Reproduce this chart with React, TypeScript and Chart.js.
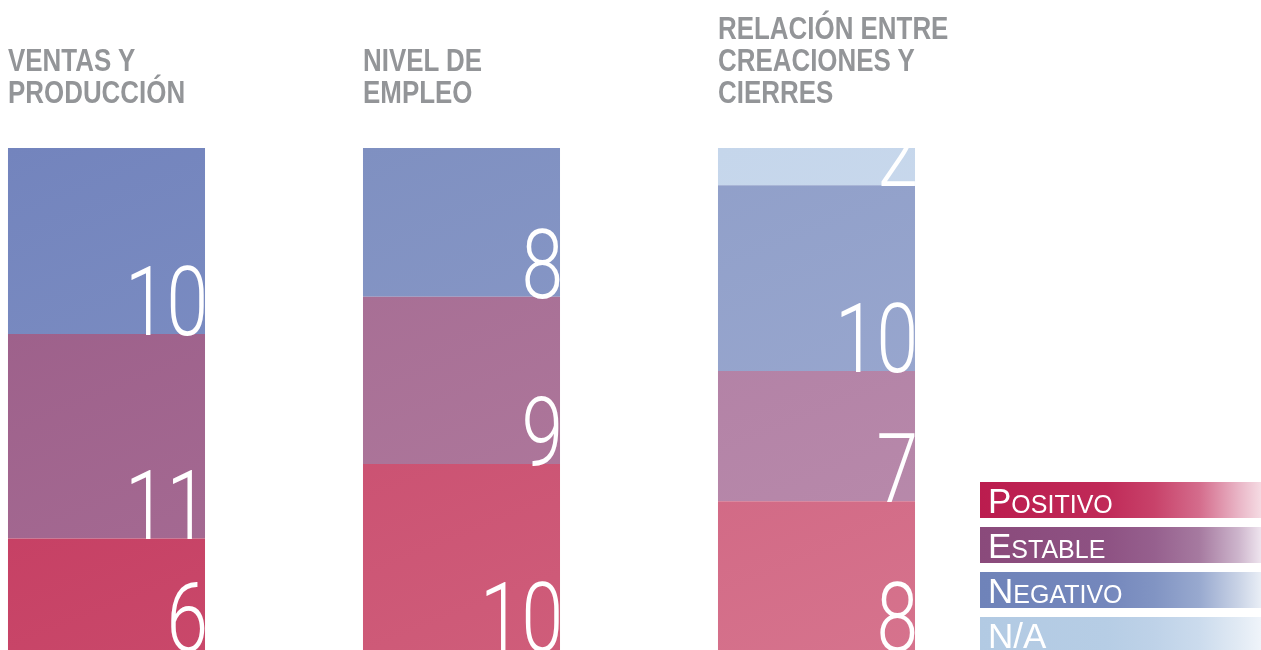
import React, { useEffect, useRef } from "react";
import { Chart, registerables } from "chart.js";

Chart.register(...registerables);

// ---- data ----
const categories = ["VENTAS Y PRODUCCIÓN", "NIVEL DE EMPLEO", "RELACIÓN ENTRE CREACIONES Y CIERRES"];
const titleLines = [
  ["VENTAS Y", "PRODUCCIÓN"],
  ["NIVEL DE", "EMPLEO"],
  ["RELACIÓN ENTRE", "CREACIONES Y", "CIERRES"],
];
const seriesNames = ["Positivo", "Estable", "Negativo", "N/A"];
const positivo = [6, 10, 8];
const estable = [11, 9, 7];
const negativo = [10, 8, 10];
const noAplica = [0, 0, 2];
const yMax = 27;

// ---- styles ----
// per series, per bar: [start, end] of a subtle diagonal gradient
const barColors: string[][][] = [
  [["#c1325a", "#c9486a"], ["#c7466a", "#cf5d7a"], ["#cc5d7b", "#d6738d"]],
  [["#9a5c87", "#a66c94"], ["#a56b92", "#b07b9e"], ["#af7ca2", "#ba8dad"]],
  [["#7384bd", "#8193c5"], ["#7f90c1", "#8e9dca"], ["#909fc9", "#9eacd2"]],
  [["#c8d8ec", "#d0def0"], ["#c8d8ec", "#d0def0"], ["#c5d6eb", "#d0ddef"]],
];
// horizontal legend gradient stops
const legendColors = [
  ["#bb1c4e", "#c02a58", "#c8426a", "#d46c8c", "#e9b5c6", "#f5dbe3"],
  ["#8a4a7b", "#8e5283", "#96608e", "#a67aa0", "#cdb5cc", "#eee4ee"],
  ["#6f83b9", "#7487bc", "#8194c3", "#98a9cf", "#c9d3e6", "#e9eef6"],
  ["#b2cae3", "#b6cde5", "#bed2e8", "#cbdbed", "#e1eaf4", "#eff4fa"],
];
const legendStops = [0, 0.45, 0.62, 0.78, 0.92, 1];

const numberLabels = {
  id: "numberLabels",
  afterDatasetsDraw(chart: any) {
    const { ctx, chartArea } = chart;
    ctx.save();
    ctx.beginPath();
    ctx.rect(0, chartArea.top, chart.width, chart.height - chartArea.top);
    ctx.clip();
    ctx.fillStyle = "#ffffff";
    ctx.textAlign = "right";
    ctx.textBaseline = "alphabetic";
    ctx.font = "300 96px Roboto, 'Liberation Sans', sans-serif";
    chart.data.datasets.forEach((ds: any, di: number) => {
      const meta = chart.getDatasetMeta(di);
      meta.data.forEach((el: any, i: number) => {
        const v = ds.data[i];
        if (!v) return;
        const p = el.getProps(["x", "y", "base", "width"], true);
        ctx.save();
        ctx.translate(p.x + p.width / 2 + 3, Math.max(p.base, p.y) + 1);
        ctx.scale(0.78, 1);
        ctx.fillText(String(v), 0, 0);
        ctx.restore();
      });
    });
    ctx.restore();
  },
};

function makeBg(si: number) {
  return (c: any) => {
    const chart = c.chart;
    const i = c.dataIndex;
    const cols = barColors[si][i] || barColors[si][0];
    const area = chart.chartArea;
    const xs = chart.scales && chart.scales.x;
    if (!area || !xs) return cols[0];
    const cx = xs.getPixelForValue(i);
    const half = 100;
    const g = chart.ctx.createLinearGradient(cx - half, area.top, cx + half, area.bottom);
    g.addColorStop(0, cols[0]);
    g.addColorStop(1, cols[1]);
    return g;
  };
}

export default function App() {
  const ref = useRef<HTMLCanvasElement>(null);
  useEffect(() => {
    if (!ref.current) return;
    const seriesData = [positivo, estable, negativo, noAplica];
    const chart = new Chart(ref.current, {
      type: "bar",
      data: {
        labels: categories,
        datasets: seriesData.map((d, si) => ({
          label: seriesNames[si],
          data: d,
          backgroundColor: makeBg(si),
          borderWidth: 0,
          categoryPercentage: 1,
          barPercentage: 0.555,
          clip: false as any,
        })),
      },
      options: {
        animation: false,
        responsive: false,
        devicePixelRatio: 1,
        layout: { padding: { left: 106.5, right: 444.5, top: 148, bottom: 0 } },
        plugins: { legend: { display: false }, tooltip: { enabled: false } },
        scales: {
          x: { stacked: true, display: false, offset: false, grid: { display: false } },
          y: { stacked: true, display: false, min: 0, max: yMax, grid: { display: false } },
        },
      },
      plugins: [numberLabels],
    });
    return () => chart.destroy();
  }, []);

  const titleLefts = [8, 363, 718];
  const legendTops = [482, 527, 572, 617];

  return (
    <div style={{ position: "fixed", left: 0, top: 0, width: 1261, height: 650, background: "#fff", overflow: "hidden" }}>
      <canvas ref={ref} width={1261} height={650} style={{ position: "absolute", left: 0, top: 0, width: 1261, height: 650 }} />
      {titleLines.map((lines, i) => (
        <div
          key={i}
          style={{
            position: "absolute",
            left: titleLefts[i],
            bottom: 650 - 108,
            color: "#939598",
            fontFamily: "'Liberation Sans', Arial, sans-serif",
            fontWeight: 700,
            fontSize: 32,
            lineHeight: "32px",
            whiteSpace: "nowrap",
            transform: "scaleX(0.81)",
            transformOrigin: "left bottom",
          }}
        >
          {lines.map((l, j) => (
            <div key={j}>{l}</div>
          ))}
        </div>
      ))}
      {seriesNames.map((name, i) => {
        const c = legendColors[i];
        const isNA = name === "N/A";
        const grad = c.map((col, k) => `${col} ${legendStops[k] * 100}%`).join(", ");
        return (
          <div
            key={name}
            style={{
              position: "absolute",
              left: 980,
              top: legendTops[i],
              width: 281,
              height: 36,
              background: `linear-gradient(to right, ${grad})`,
              color: "#fff",
              fontFamily: "'Liberation Sans', Arial, sans-serif",
              whiteSpace: "nowrap",
            }}
          >
            <div style={{ position: "absolute", left: 8, top: -1, height: 36, lineHeight: "40px" }}>
              {isNA ? (
                <span style={{ fontSize: 35 }}>{name}</span>
              ) : (
                <>
                  <span style={{ fontSize: 35 }}>{name[0].toUpperCase()}</span>
                  <span style={{ fontSize: 25 }}>{name.slice(1).toUpperCase()}</span>
                </>
              )}
            </div>
          </div>
        );
      })}
    </div>
  );
}
